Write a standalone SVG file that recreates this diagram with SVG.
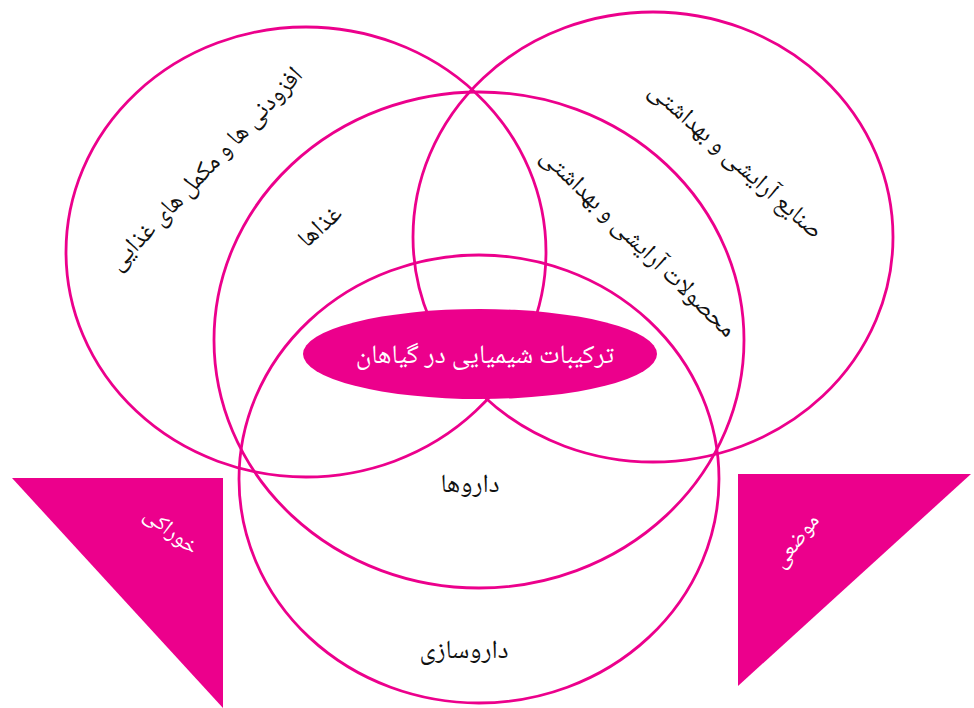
<svg xmlns="http://www.w3.org/2000/svg" width="974" height="708" viewBox="0 0 974 708">
<style>
.ring{fill:none;stroke:#EC008C;stroke-width:2.8}
.tri{fill:#EC008C}
.lbl{font-family:"Noto Naskh Arabic","DejaVu Sans",sans-serif;font-size:25px;fill:#111;text-anchor:middle}
.wlbl{font-family:"Noto Naskh Arabic","DejaVu Sans",sans-serif;font-size:22px;fill:#fff;text-anchor:middle}
</style>
<rect width="974" height="708" fill="#fff"/>
<g id="triangle-left"><polygon class="tri" points="12,478 223,478 223,708"/><text class="wlbl" transform="translate(167,536) rotate(38)">خوراکی</text></g>
<g id="triangle-right"><polygon class="tri" points="738,474 971,474 738,686"/><text class="wlbl" transform="translate(801,545) rotate(-52)">موضعی</text></g>
<g id="circle-supplements"><ellipse class="ring" cx="306" cy="252" rx="240" ry="225"/><text class="lbl" transform="translate(211,174) rotate(-46.5)">افزودنی ها و مکمل های غذایی</text></g>
<g id="circle-cosmetics-industry"><ellipse class="ring" cx="653" cy="237" rx="240" ry="225"/><text class="lbl" transform="translate(731,166) rotate(41.5)">صنایع آرایشی و بهداشتی</text></g>
<g id="circle-foods"><ellipse class="ring" cx="479" cy="340" rx="265" ry="248"/><text class="lbl" transform="translate(325,232) rotate(-42)">غذاها</text></g>
<g id="circle-cosmetic-products"><text class="lbl" transform="translate(633,248) rotate(44)">محصولات آرایشی و بهداشتی</text></g>
<g id="circle-pharmacy"><ellipse class="ring" cx="479" cy="479" rx="240" ry="224"/><text class="lbl" x="470" y="492" style="font-size:26px">داروها</text><text class="lbl" x="464" y="658" style="font-size:26px">داروسازی</text></g>
<g id="center"><ellipse cx="480" cy="354" rx="177" ry="45" fill="#EC008C"/><text class="wlbl" x="485" y="363" style="font-size:26.5px">ترکیبات شیمیایی در گیاهان</text></g>
<g id="connectors"></g>
</svg>
